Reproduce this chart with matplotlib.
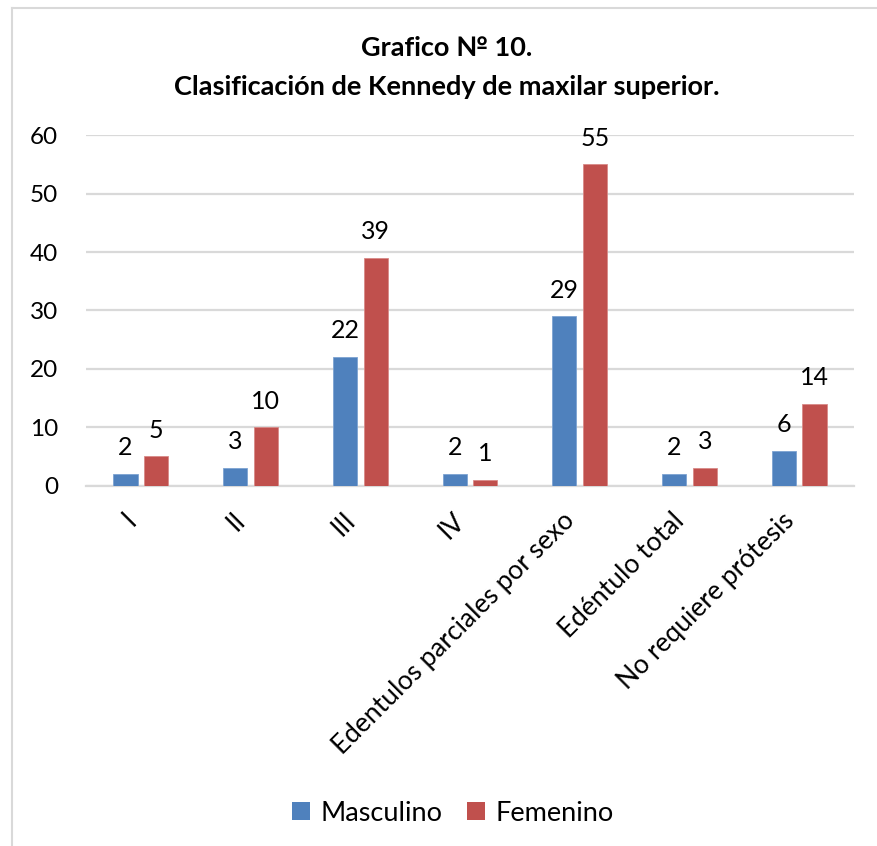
import matplotlib.pyplot as plt
import numpy as np
from matplotlib.patches import Patch
from matplotlib.lines import Line2D

plt.rcParams['font.family'] = ['Lato', 'DejaVu Sans']

# Data
categories = ['I', 'II', 'III', 'IV', 'Edentulos parciales por sexo',
              'Edéntulo total', 'No requiere prótesis']
masculino = [2, 3, 22, 2, 29, 2, 6]
femenino = [5, 10, 39, 1, 55, 3, 14]
series_names = ['Masculino', 'Femenino']
y_ticks = [0, 10, 20, 30, 40, 50, 60]

blue = '#4F81BD'
red = '#C0504D'
grid_col = '#D9D9D9'

W, H = 878, 846
fig = plt.figure(figsize=(W / 100, H / 100), dpi=100)
ax = fig.add_axes([86 / W, 1 - 485.7 / H, (854 - 86) / W, (485.7 - 135.3) / H])

x = np.arange(len(categories))
bw = 0.22
off = 0.14
b1 = ax.bar(x - off, masculino, bw, color=blue, edgecolor='#7DA3D2', linewidth=0.6, zorder=3)
b2 = ax.bar(x + off, femenino, bw, color=red, edgecolor='#D98A88', linewidth=0.6, zorder=3)

# value labels above bars
for bars, vals in ((b1, masculino), (b2, femenino)):
    for rect, v in zip(bars, vals):
        ax.annotate(str(v), (rect.get_x() + rect.get_width() / 2, v),
                    xytext=(0, 13.5), textcoords='offset points',
                    ha='center', va='baseline', fontsize=18, color='black')

ax.set_xlim(-0.5, len(categories) - 0.5)
ax.set_ylim(0, 60)
ax.set_yticks(y_ticks)
ax.yaxis.grid(True, color=grid_col, linewidth=1.6, zorder=0)
ax.set_axisbelow(True)
for s in ('top', 'right', 'left'):
    ax.spines[s].set_visible(False)
ax.spines['bottom'].set_color(grid_col)
ax.spines['bottom'].set_linewidth(1.6)
ax.tick_params(axis='y', length=0, pad=20, labelsize=17.5)
ax.tick_params(axis='x', length=0, pad=16, labelsize=19)
ax.set_xticks(x)
ax.set_xticklabels(categories, rotation=45, ha='right', va='top')

# title
fig.text(447 / W, 1 - 48 / H, 'Grafico № 10.', ha='center', va='center',
         fontsize=19.5, fontweight='bold')
fig.text(447 / W, 1 - 87 / H, 'Clasificación de Kennedy de maxilar superior.',
         ha='center', va='center', fontsize=19.5, fontweight='bold')

# legend
handles = [Patch(facecolor=blue), Patch(facecolor=red)]
fig.legend(handles, series_names, loc='center', bbox_to_anchor=(453 / W, 1 - 813 / H),
           ncol=2, frameon=False, fontsize=19.5, handlelength=0.65, handleheight=0.65,
           handletextpad=0.4, columnspacing=0.9)

# chart frame
fig.add_artist(Line2D([12 / W, 12 / W], [0, 1 - 8 / H], color='#D9D9D9', linewidth=1.5))
fig.add_artist(Line2D([12 / W, 1], [1 - 8 / H, 1 - 8 / H], color='#D9D9D9', linewidth=1.5))

fig.savefig('out.png', dpi=100)
